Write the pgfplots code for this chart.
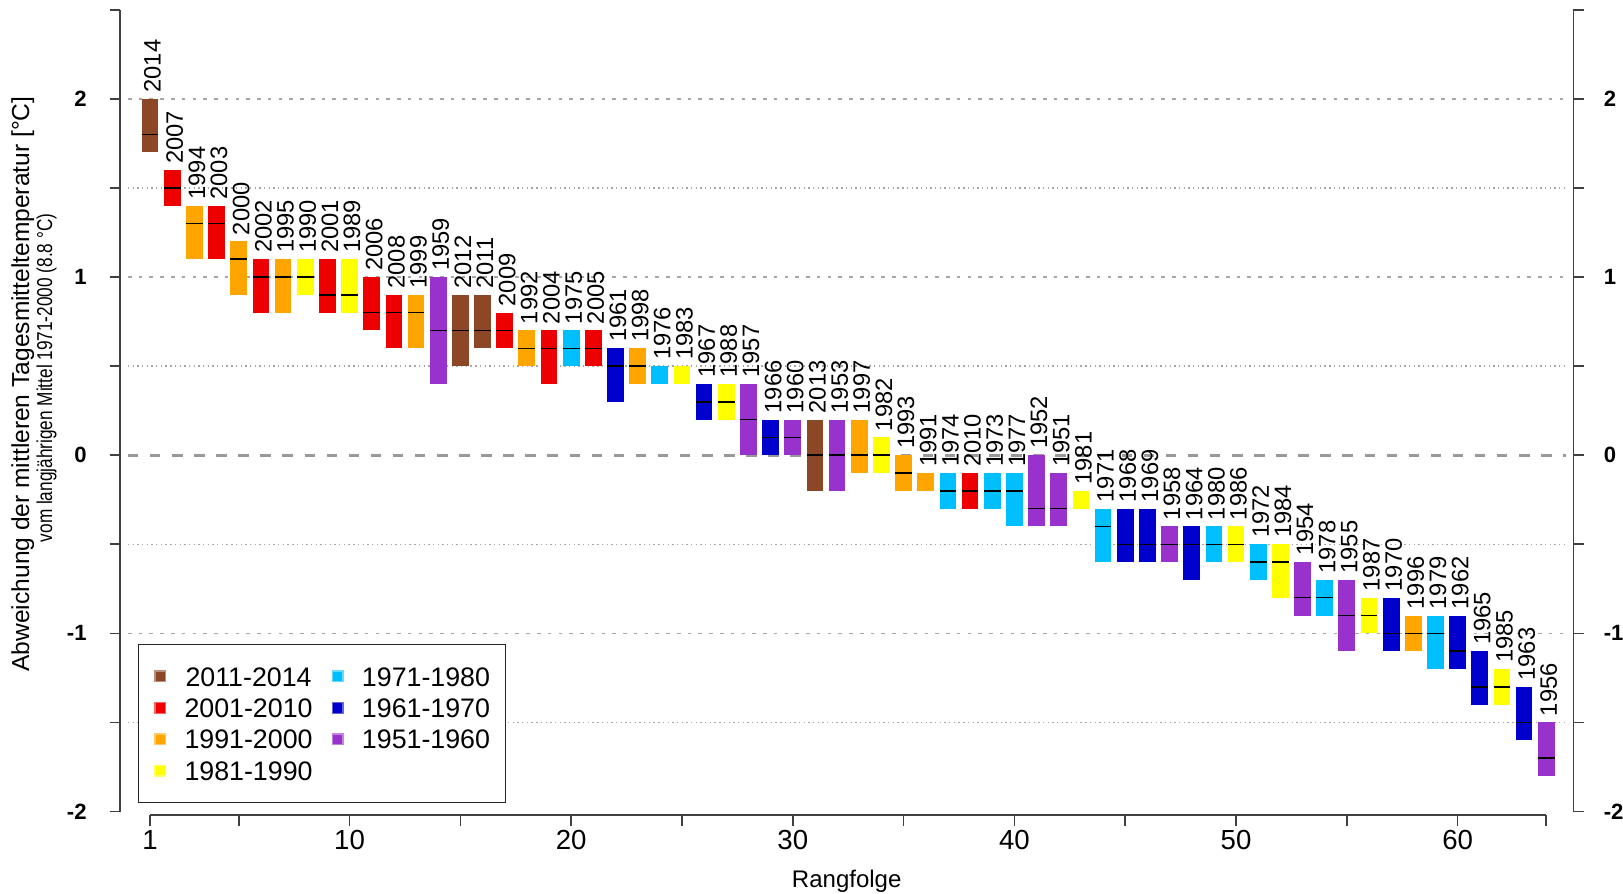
\documentclass[border=0pt]{standalone}
\usepackage{pgfplots}
\usepackage{pgfplotstable}
\pgfplotsset{compat=1.18}
\usepackage{fontspec}
\setmainfont{Liberation Sans}
\newfontfamily\narrowfont[FakeStretch=0.8]{Liberation Sans}

\definecolor{cBrown}{HTML}{8B4726}
\definecolor{cRed}{HTML}{EE0000}
\definecolor{cOrange}{HTML}{FFA500}
\definecolor{cYellow}{HTML}{FFFF00}
\definecolor{cCyan}{HTML}{00BFFF}
\definecolor{cBlue}{HTML}{0000CD}
\definecolor{cPurple}{HTML}{9932CC}
\definecolor{axcol}{HTML}{404040}

% rank year low median high
\pgfplotstableread{
r year lo md hi
1 2014 1.7 1.8 2.0
15 2012 0.5 0.7 0.9
16 2011 0.6 0.7 0.9
31 2013 -0.2 0.0 0.2
}\tBrown
\pgfplotstableread{
r year lo md hi
2 2007 1.4 1.5 1.6
4 2003 1.1 1.3 1.4
6 2002 0.8 1.0 1.1
9 2001 0.8 0.9 1.1
11 2006 0.7 0.8 1.0
12 2008 0.6 0.8 0.9
17 2009 0.6 0.7 0.8
19 2004 0.4 0.6 0.7
21 2005 0.5 0.6 0.7
38 2010 -0.3 -0.2 -0.1
}\tRed
\pgfplotstableread{
r year lo md hi
3 1994 1.1 1.3 1.4
5 2000 0.9 1.1 1.2
7 1995 0.8 1.0 1.1
13 1999 0.6 0.8 0.9
18 1992 0.5 0.6 0.7
23 1998 0.4 0.5 0.6
33 1997 -0.1 0.0 0.2
35 1993 -0.2 -0.1 0.0
36 1991 -0.2 nan -0.1
58 1996 -1.1 -1.0 -0.9
}\tOrange
\pgfplotstableread{
r year lo md hi
8 1990 0.9 1.0 1.1
10 1989 0.8 0.9 1.1
25 1983 0.4 nan 0.5
27 1988 0.2 0.3 0.4
34 1982 -0.1 0.0 0.1
43 1981 -0.3 nan -0.2
50 1986 -0.6 -0.5 -0.4
52 1984 -0.8 -0.6 -0.5
56 1987 -1.0 -0.9 -0.8
62 1985 -1.4 -1.3 -1.2
}\tYellow
\pgfplotstableread{
r year lo md hi
20 1975 0.5 0.6 0.7
24 1976 0.4 nan 0.5
37 1974 -0.3 -0.2 -0.1
39 1973 -0.3 -0.2 -0.1
40 1977 -0.4 -0.2 -0.1
44 1971 -0.6 -0.4 -0.3
49 1980 -0.6 -0.5 -0.4
51 1972 -0.7 -0.6 -0.5
54 1978 -0.9 -0.8 -0.7
59 1979 -1.2 -1.0 -0.9
}\tCyan
\pgfplotstableread{
r year lo md hi
22 1961 0.3 0.5 0.6
26 1967 0.2 0.3 0.4
29 1966 0.0 0.1 0.2
45 1968 -0.6 -0.5 -0.3
46 1969 -0.6 -0.5 -0.3
48 1964 -0.7 -0.5 -0.4
57 1970 -1.1 -1.0 -0.8
60 1962 -1.2 -1.1 -0.9
61 1965 -1.4 -1.3 -1.1
63 1963 -1.6 -1.5 -1.3
}\tBlue
\pgfplotstableread{
r year lo md hi
14 1959 0.4 0.7 1.0
28 1957 0.0 0.2 0.4
30 1960 0.0 0.1 0.2
32 1953 -0.2 0.0 0.2
41 1952 -0.4 -0.3 0.0
42 1951 -0.4 -0.3 -0.1
47 1958 -0.6 -0.5 -0.4
53 1954 -0.9 -0.8 -0.6
55 1955 -1.1 -0.9 -0.7
64 1956 -1.8 -1.7 -1.5
}\tPurple

\newcommand{\drawgroup}[2]{%
  \addplot[draw=none, mark=none, forget plot,
    error bars/.cd, y dir=plus, y explicit, error mark=none,
    error bar style={line width=6.05pt, draw=#2, solid}]
    table[x=r, y=lo, y error expr=\thisrow{hi}-\thisrow{lo}] {#1};
  \addplot[draw=none, mark=none, forget plot, unbounded coords=jump,
    error bars/.cd, x dir=both, x fixed=0.3768, error mark=none,
    error bar style={line width=0.55pt, draw=black, solid}]
    table[x=r, y=md] {#1};
  \addplot[draw=none, mark=none, forget plot,
    point meta=explicit symbolic,
    nodes near coords,
    nodes near coords align={anchor=west},
    nodes near coords style={xshift=0.9pt, rotate=90, anchor=west,
      inner xsep=2.1pt, inner ysep=0pt, text=black,
      font=\fontsize{8.6}{10}\selectfont}]
    table[x=r, y=hi, meta=year] {#1};
}

\tikzset{
  gint/.style={draw=black!35, line width=0.6pt, dash pattern=on 1.3pt off 2.6pt},
  ghalf/.style={draw=black!35, line width=0.45pt, dash pattern=on 0.5pt off 1.2pt},
  gzero/.style={draw=black!40, line width=1pt, dash pattern=on 3.8pt off 4.2pt},
}

\pgfplotsset{
  myaxis/.style={
    scale only axis,
    width=526.5pt, height=291.75pt,
    xmin=-0.354, xmax=65.22,
    ymin=-2.02, ymax=2.5,
    axis line style={draw=none},
    tick align=outside,
    major tick length=3.8pt, minor tick length=3.8pt,
    tick style={axcol, line width=0.6pt},
    ytick={-2,-1,0,1,2},
    yticklabels={-2,-1,0,1,2},
    minor ytick={-1.5,-0.5,0.5,1.5,2.5},
    yticklabel style={font=\bfseries\fontsize{8}{9.6}\selectfont},
  }
}

\begin{document}
\begin{tikzpicture}
\begin{axis}[myaxis,
    ytick pos=left,
    yticklabel shift=4.8pt,
    xtick pos=bottom,
    xtick={1,10,20,30,40,50,60},
    xticklabels={1,10,20,30,40,50,60},
    minor xtick={5,15,25,35,45,55,64},
    xticklabel style={font=\fontsize{10}{12}\selectfont},
    xticklabel shift=-1.8pt,
    clip=false,
    legend columns=2,
    legend style={at={(0.01216,0.0144)}, anchor=south west,
      draw=black!85, line width=0.5pt,
      inner xsep=5.7pt, inner ysep=8.1pt,
      font=\fontsize{9.7}{11}\selectfont,
      nodes={inner sep=0pt, text height=7pt, text depth=0pt},
      row sep=4.4pt,
      /tikz/every odd column/.style={column sep=6.6pt},
      /tikz/every even column/.style={column sep=6.9pt}},
    legend image code/.code={\draw[#1] (0pt,-1.95pt) rectangle (3.9pt,1.95pt);},
  ]
  % grid lines
  \draw[gint] (axis cs:0,2) -- (axis cs:64.9,2);
  \draw[gint] (axis cs:0,1) -- (axis cs:64.9,1);
  \draw[gint] (axis cs:0,-1) -- (axis cs:64.9,-1);
  \draw[ghalf] (axis cs:0,1.5) -- (axis cs:64.9,1.5);
  \draw[ghalf] (axis cs:0,0.5) -- (axis cs:64.9,0.5);
  \draw[ghalf] (axis cs:0,-0.5) -- (axis cs:64.9,-0.5);
  \draw[ghalf] (axis cs:0,-1.5) -- (axis cs:64.9,-1.5);
  \draw[gzero] (axis cs:0,0) -- (axis cs:64.9,0);
  % axis lines
  \draw[axcol, line width=0.6pt] (axis cs:1,-2.02) -- (axis cs:64,-2.02);
  \draw[axcol, line width=0.6pt] (axis cs:-0.354,-2) -- (axis cs:-0.354,2.5);
  \draw[axcol, line width=0.6pt] (axis cs:65.22,-2) -- (axis cs:65.22,2.5);

  \drawgroup{\tBrown}{cBrown}
  \drawgroup{\tRed}{cRed}
  \drawgroup{\tOrange}{cOrange}
  \drawgroup{\tYellow}{cYellow}
  \drawgroup{\tCyan}{cCyan}
  \drawgroup{\tBlue}{cBlue}
  \drawgroup{\tPurple}{cPurple}

  \addlegendimage{fill=cBrown, draw=cBrown!60!white}
  \addlegendentry{2011-2014}
  \addlegendimage{fill=cCyan, draw=cCyan!60!white}
  \addlegendentry{1971-1980}
  \addlegendimage{fill=cRed, draw=cRed!60!white}
  \addlegendentry{2001-2010}
  \addlegendimage{fill=cBlue, draw=cBlue!60!white}
  \addlegendentry{1961-1970}
  \addlegendimage{fill=cOrange, draw=cOrange!60!white}
  \addlegendentry{1991-2000}
  \addlegendimage{fill=cPurple, draw=cPurple!60!white}
  \addlegendentry{1951-1960}
  \addlegendimage{fill=cYellow, draw=cYellow!60!white}
  \addlegendentry{1981-1990}
\end{axis}
\begin{axis}[myaxis,
    xtick=\empty,
    ytick pos=right,
    yticklabel pos=right,
    yticklabel shift=3.7pt,
  ]
\end{axis}
\node[rotate=90, font=\fontsize{8.9}{10.5}\selectfont] at (-35.25pt,156.2pt)
  {Abweichung der mittleren Tagesmitteltemperatur [°C]};
\node[rotate=90, font=\narrowfont\fontsize{7.8}{9}\selectfont] at (-26.6pt,158.4pt)
  {vom langjährigen Mittel 1971-2000 (8.8 °C)};
\node[anchor=base, font=\fontsize{8.7}{10}\selectfont] at (263.25pt,-26.1pt) {Rangfolge};
\pgfresetboundingbox
\useasboundingbox (-43.5pt,-28.3pt) rectangle (544.5pt,295.3pt);
\end{tikzpicture}
\end{document}
